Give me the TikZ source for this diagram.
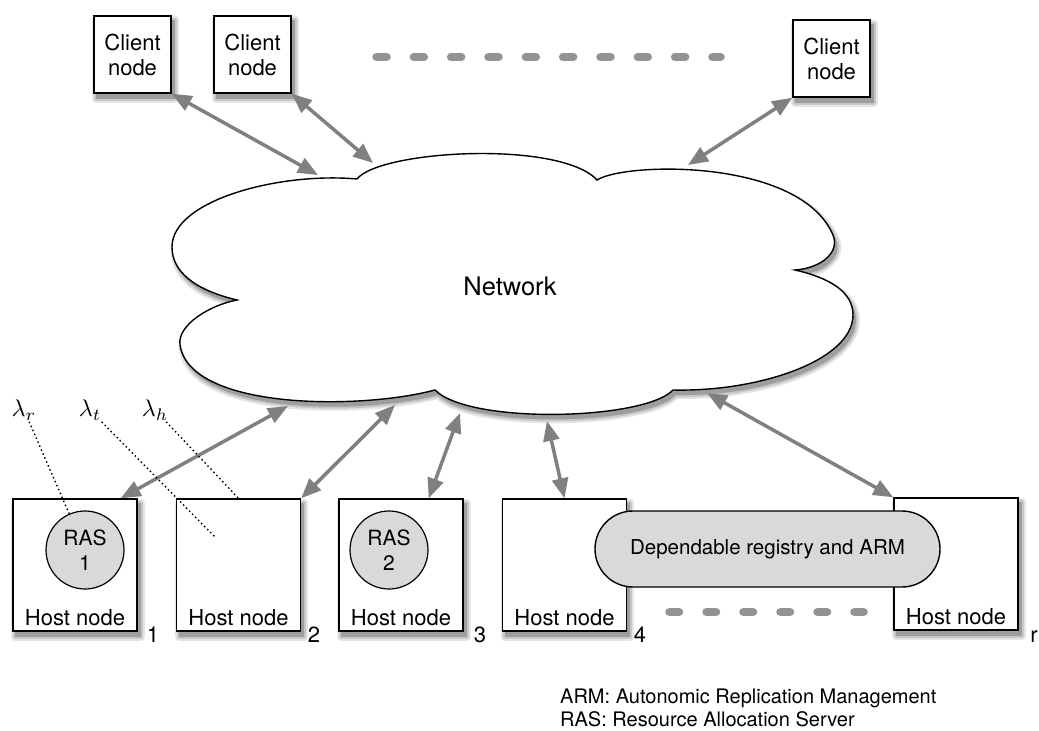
\documentclass[tikz,border=0pt]{standalone}
\usepackage{fontspec}
\setmainfont{TeX Gyre Heros}
\usetikzlibrary{arrows.meta,calc,backgrounds}
\definecolor{arrgray}{HTML}{808080}
\definecolor{fillgray}{HTML}{D9D9D9}
\definecolor{dashgray}{HTML}{939393}
\newcommand\cloudpath{(357,179) .. controls (380,150) and (560,140) .. (597,180)
  .. controls (625,162) and (800,158) .. (833,235)
  .. controls (840,252) and (822,268) .. (795,270)
  .. controls (830,278) and (853,292) .. (853,315)
  .. controls (853,360) and (760,392) .. (673,390)
  .. controls (645,420) and (470,425) .. (435,390)
  .. controls (360,410) and (190,410) .. (180,345)
  .. controls (177,325) and (210,305) .. (237,300)
  .. controls (195,290) and (172,272) .. (172,247)
  .. controls (172,200) and (280,172) .. (357,179) -- cycle}
\begin{document}
\begin{tikzpicture}[x=1pt,y=-1pt,
  box/.style={draw=black, line width=1.4pt, fill=white, inner sep=0pt},
  client/.style={box, minimum width=77pt, minimum height=77pt, align=center, font=\fontsize{22}{25}\selectfont},
  host/.style={box, minimum width=124pt, minimum height=132pt},
  txt/.style={anchor=base, inner sep=0pt, font=\fontsize{22}{25}\selectfont},
  ras/.style={circle, draw=black, line width=1.2pt, fill=fillgray, minimum size=78pt, inner sep=0pt, align=center, font=\fontsize{21}{25}\selectfont},
  pill/.style={draw=black, line width=1.4pt, fill=fillgray, rounded corners=38pt, minimum width=345pt, minimum height=76pt, inner sep=0pt, font=\fontsize{20.5}{25}\selectfont},
  link/.style={draw=arrgray, line width=3.5pt, arrows={Triangle[length=20pt,width=16pt]-Triangle[length=20pt,width=16pt]}},
  dots/.style={draw=dashgray, line width=8.5pt, line cap=round},
  lam/.style={draw=black, line width=1.4pt, dash pattern=on 1.5pt off 2.8pt},
  lamtxt/.style={inner sep=0.5pt, scale=2.4, transform shape},
  legend/.style={anchor=base west, inner sep=0pt, font=\fontsize{20}{24}\selectfont},
  shA/.style={draw=black!10, line width=8pt, line join=round},
  shB/.style={draw=black!22, line width=4pt, line join=round},
  shC/.style={fill=black!38}
]
\useasboundingbox (0,0) rectangle (1039,731);

% cloud
\path[draw=black, line width=1.4pt, fill=white] \cloudpath;
\node[font=\fontsize{25.5}{30}\selectfont] (net) at (510,286) {Network};

% client nodes
\node[client] (c1) at (132.5,54.5) {Client\\node};
\node[client] (c2) at (252.5,54.5) {Client\\node};
\node[client] (c3) at (831.5,58.5) {Client\\node};

% dashes
\coordinate (dt1) at (376.5,57);
\coordinate (dt2) at (720.5,57);
\draw[dots, dash pattern=on 10pt off 27.33pt] (dt1) -- (dt2);
\coordinate (db1) at (669.5,612);
\coordinate (db2) at (863.5,612);
\draw[dots, dash pattern=on 9.5pt off 27.5pt] (db1) -- (db2);

% host nodes
\node[host] (h1) at (75,565) {};
\node[host] (h2) at (238.5,565) {};
\node[host] (h3) at (401,565) {};
\node[host] (h4) at (564.5,565) {};
\node[host] (hr) at (956,564) {};
\foreach \h in {h1,h2,h3,h4,hr}{
  \node[txt] (\h t) at ($(\h.south)+(0,-6)$) {Host node};
}
\node[txt] (n1) at (153,642) {1};
\node[txt] (n2) at (314,642) {2};
\node[txt] (n3) at (480,642) {3};
\node[txt] (n4) at (640,642) {4};
\node[txt] (nr) at (1034,642) {r};

\node[ras] (ras1) at (85,550) {RAS\\1};
\node[ras] (ras2) at (389,550) {RAS\\2};

\node[pill] (reg) at (767.5,549) {Dependable registry and ARM};

% shadows
\begin{pgfonlayer}{background}
  \begin{scope}[shift={(3,5)}]
    \path[shA] \cloudpath;
    \path[shB] \cloudpath;
    \path[shC] \cloudpath;
  \end{scope}
  \foreach \n in {c1,c2,c3,h1,h2,h3,h4,hr}{
    \path[shA] ([shift={(3,5)}]\n.north west) rectangle ([shift={(3,5)}]\n.south east);
    \path[shB] ([shift={(3,5)}]\n.north west) rectangle ([shift={(3,5)}]\n.south east);
    \path[shC] ([shift={(3,5)}]\n.north west) rectangle ([shift={(3,5)}]\n.south east);
  }
\end{pgfonlayer}

% cloud attachment points
\coordinate (nc1) at (318,175);
\coordinate (nc2) at (373,163);
\coordinate (nc3) at (688,165);
\coordinate (nb1) at (288,406);
\coordinate (nb2) at (395,405);
\coordinate (nb3) at (460,413);
\coordinate (nb4) at (547,421);
\coordinate (nbr) at (707,393);

\draw[link] (c1.south east) -- (nc1);
\draw[link] (c2.south east) -- (nc2);
\draw[link] (c3.south west) -- (nc3);
\draw[link] ([xshift=-17pt]h1.north east) -- (nb1);
\draw[link] (h2.north east) -- (nb2);
\draw[link] ([xshift=-35pt]h3.north east) -- (nb3);
\draw[link] (h4.north) -- (nb4);
\draw[link] (hr.north west) -- (nbr);

% lambdas
\node[lamtxt] (lr) at (24,410) {$\lambda_r$};
\node[lamtxt] (lt) at (90,410) {$\lambda_t$};
\node[lamtxt] (lh) at (155,410) {$\lambda_h$};
\coordinate (ltend) at (215,537);
\draw[lam] (lr) -- (ras1);
\draw[lam] (lt) -- (ltend);
\draw[lam] (lh) -- (h2.north);

% legend
\node[legend] (leg1) at (560,703) {ARM: Autonomic Replication Management};
\node[legend] (leg2) at (560,726) {RAS: Resource Allocation Server};
\end{tikzpicture}
\end{document}
